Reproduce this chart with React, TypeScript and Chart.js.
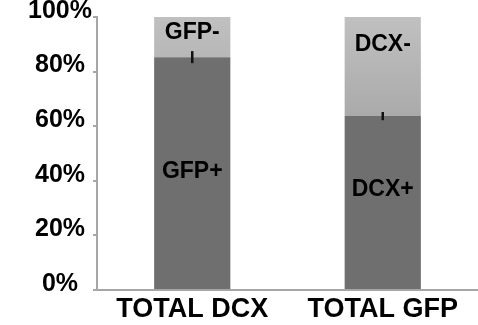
import React, { useEffect, useRef } from "react";
import { Chart, registerables } from "chart.js";

Chart.register(...registerables);

const categories = ["TOTAL DCX", "TOTAL GFP"];
const positiveValues = [85.3, 63.7];
const negativeValues = [14.7, 36.3];
const errorValues = [2.2, 1.5];
const positiveLabels = ["GFP+", "DCX+"];
const negativeLabels = ["GFP-", "DCX-"];
const positiveLabelAt = [43.2, 36.6];
const negativeLabelAt = [94.1, 89.7];
const yTickValues = [0, 20, 40, 60, 80, 100];

const FONT = "'Liberation Sans', Arial, sans-serif";

const overlayPlugin = {
  id: "overlay",
  afterDatasetsDraw(chart: any) {
    const { ctx, scales } = chart;
    const x = scales.x;
    const y = scales.y;
    const meta = chart.getDatasetMeta(0);
    ctx.save();
    ctx.strokeStyle = "#111";
    ctx.lineWidth = 2.5;
    meta.data.forEach((bar: any, i: number) => {
      const cx = bar.x;
      const v = positiveValues[i];
      ctx.beginPath();
      ctx.moveTo(cx, y.getPixelForValue(v + errorValues[i]));
      ctx.lineTo(cx, y.getPixelForValue(v - errorValues[i]));
      ctx.stroke();
    });
    ctx.fillStyle = "#000";
    ctx.font = `bold 23px ${FONT}`;
    ctx.textAlign = "center";
    ctx.textBaseline = "middle";
    categories.forEach((_c, i) => {
      const cx = x.getPixelForValue(i);
      ctx.fillText(positiveLabels[i], cx, y.getPixelForValue(positiveLabelAt[i]));
      ctx.fillText(negativeLabels[i], cx, y.getPixelForValue(negativeLabelAt[i]));
    });
    ctx.restore();
  },
};

export default function App() {
  const ref = useRef<HTMLCanvasElement | null>(null);
  useEffect(() => {
    document.body.style.margin = "0";
    const canvas = ref.current;
    if (!canvas) return;
    const chart = new Chart(canvas, {
      type: "bar",
      data: {
        labels: categories,
        datasets: [
          {
            label: "positive",
            data: positiveValues,
            backgroundColor: "#6f6f6f",
            barPercentage: 0.4,
            categoryPercentage: 1,
          },
          {
            label: "negative",
            data: negativeValues,
            backgroundColor: (c: any) => {
              const area = c.chart.chartArea;
              if (!area) return "#b3b3b3";
              const g = c.chart.ctx.createLinearGradient(0, area.top, 0, area.top + 110);
              g.addColorStop(0, "#c0c0c0");
              g.addColorStop(1, "#a8a8a8");
              return g;
            },
            barPercentage: 0.4,
            categoryPercentage: 1,
          },
        ],
      },
      options: {
        animation: false,
        responsive: true,
        maintainAspectRatio: false,
        layout: { padding: { top: 0, left: 0, bottom: 0, right: -4 } },
        plugins: {
          legend: { display: false },
          tooltip: { enabled: false },
        },
        scales: {
          x: {
            stacked: true,
            grid: { display: false, drawTicks: false },
            border: { display: true, color: "#a6a6a6", width: 2 },
            ticks: {
              color: "#000",
              font: { family: FONT, size: 27, weight: "bold" },
              padding: 3,
            },
            afterFit: (s: any) => {
              s.height = 35;
            },
          },
          y: {
            stacked: true,
            min: 0,
            max: 100,
            afterBuildTicks: (s: any) => {
              s.ticks = yTickValues.map((v) => ({ value: v }));
            },
            grid: {
              display: true,
              drawOnChartArea: false,
              drawTicks: true,
              tickLength: 4,
              color: "#a6a6a6",
              lineWidth: 2,
            },
            border: { display: true, color: "#a6a6a6", width: 2 },
            ticks: {
              color: "#000",
              font: { family: FONT, size: 25, weight: "bold" },
              padding: 1,
              crossAlign: "center",
              labelOffset: -6,
              callback: (v: any) => `${v}%`,
            },
            afterFit: (s: any) => {
              s.width = 97;
              s.paddingTop = 17;
            },
          },
        },
      },
      plugins: [overlayPlugin],
    });
    return () => chart.destroy();
  }, []);
  return (
    <div style={{ position: "relative", width: 478, height: 325 }}>
      <canvas ref={ref} />
    </div>
  );
}
